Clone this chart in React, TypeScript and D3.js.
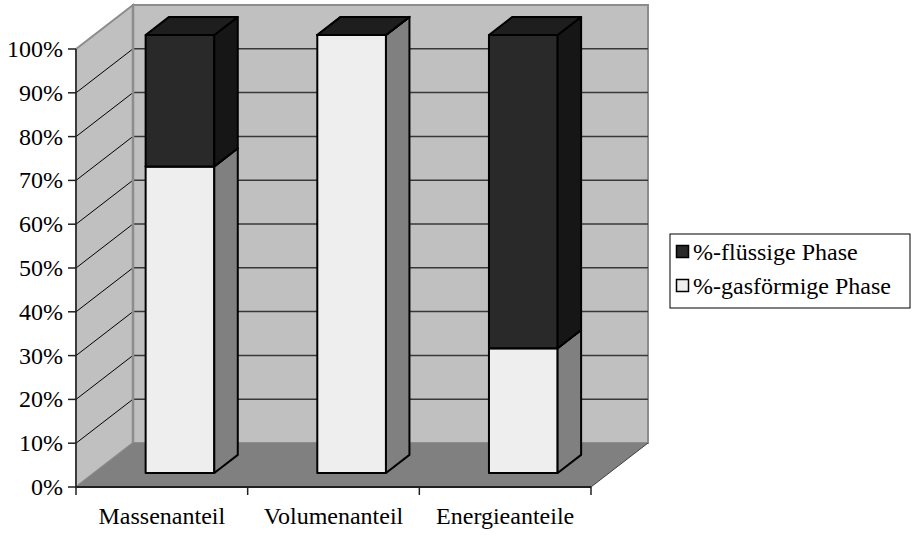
import React, { useEffect, useRef } from "react";
import * as d3 from "d3";

// Chart data
const categories = ["Massenanteil", "Volumenanteil", "Energieanteile"];
const gasPhase = [70, 100, 28.5];
const liquidPhase = [30, 0, 71.5];
const seriesNames = ["%-flüssige Phase", "%-gasförmige Phase"];
const yTicks = [0, 10, 20, 30, 40, 50, 60, 70, 80, 90, 100];

const W = 916;
const H = 536;
const FONT = "Times New Roman";

// Plot frame (front plane) and depth offset of the 3D box
const x0 = 76;
const x1 = 591;
const yBottom = 487;
const yTop = 49;
const DEPTH_X = 57;
const DEPTH_Y = -44;
// bars occupy this slice of the depth
const BAR_F0 = 0.318;
const BAR_F1 = 0.73;

const COLORS = {
  wall: "#c0c0c0",
  wallEdge: "#8c8c8c",
  floor: "#808080",
  grid: "#383838",
  liquid: { front: "#292929", side: "#161616", top: "#1e1e1e" },
  gas: { front: "#eeeeee", side: "#808080", top: "#bdbdbd" },
};

const proj = (x: number, y: number, f: number): [number, number] => [
  x + f * DEPTH_X,
  y + f * DEPTH_Y,
];

const pts = (p: [number, number][]) => p.map((q) => q.join(",")).join(" ");

export default function App() {
  const ref = useRef<SVGSVGElement | null>(null);

  useEffect(() => {
    const svg = d3.select(ref.current);
    svg.selectAll("*").remove();

    const y = d3.scaleLinear().domain([0, 100]).range([yBottom, yTop]);
    const x = d3
      .scaleBand<string>()
      .domain(categories)
      .range([x0, x1])
      .paddingInner(0.6)
      .paddingOuter(0.3);
    const step = x.step();
    const bw = x.bandwidth();

    const stacks = d3
      .stack<any>()
      .keys(["gas", "liquid"])(
        categories.map((c, i) => ({ cat: c, gas: gasPhase[i], liquid: liquidPhase[i] }))
      );

    const [bx0, byTop] = proj(x0, y(100), 1);
    const [bx1, byBot] = proj(x1, y(0), 1);

    // back wall
    svg
      .append("rect")
      .attr("x", bx0)
      .attr("y", byTop)
      .attr("width", bx1 - bx0)
      .attr("height", byBot - byTop)
      .attr("fill", COLORS.wall)
      .attr("stroke", COLORS.wallEdge)
      .attr("stroke-width", 2);

    // left wall
    svg
      .append("polygon")
      .attr(
        "points",
        pts([[x0, y(100)], proj(x0, y(100), 1), proj(x0, y(0), 1), [x0, y(0)]])
      )
      .attr("fill", COLORS.wall)
      .attr("stroke", COLORS.wallEdge)
      .attr("stroke-width", 2);

    // floor
    svg
      .append("polygon")
      .attr("points", pts([[x0, y(0)], [x1, y(0)], proj(x1, y(0), 1), proj(x0, y(0), 1)]))
      .attr("fill", COLORS.floor);
    const fr = proj(x1, y(0), 1);
    svg
      .append("line")
      .attr("x1", x1)
      .attr("y1", y(0))
      .attr("x2", fr[0])
      .attr("y2", fr[1])
      .attr("stroke", "#404040")
      .attr("stroke-width", 1);

    // gridlines on back and left walls
    yTicks
      .filter((t) => t > 0 && t < 100)
      .forEach((t) => {
        const [lx, ly] = proj(x0, y(t), 1);
        const [rx] = proj(x1, y(t), 1);
        svg
          .append("line")
          .attr("x1", lx)
          .attr("y1", ly)
          .attr("x2", rx)
          .attr("y2", ly)
          .attr("stroke", COLORS.grid)
          .attr("stroke-width", 1.5);
        svg
          .append("line")
          .attr("x1", x0)
          .attr("y1", y(t))
          .attr("x2", lx)
          .attr("y2", ly)
          .attr("stroke", "#000")
          .attr("stroke-width", 1);
      });

    svg
      .append("line")
      .attr("x1", bx0)
      .attr("y1", byTop)
      .attr("x2", bx0)
      .attr("y2", byBot)
      .attr("stroke", COLORS.wallEdge)
      .attr("stroke-width", 2.5);

    // bars: each stacked segment has front, side and top faces
    categories.forEach((c, i) => {
      const xl = x(c)!;
      const xr = xl + bw;
      stacks.forEach((s, si) => {
        const [v0, v1] = s[i];
        const col = si === 0 ? COLORS.gas : COLORS.liquid;
        const yb = y(v0);
        const yt = y(v1);
        const fbl = proj(xl, yb, BAR_F0);
        const fbr = proj(xr, yb, BAR_F0);
        const ftl = proj(xl, yt, BAR_F0);
        const ftr = proj(xr, yt, BAR_F0);
        const bbr = proj(xr, yb, BAR_F1);
        const btr = proj(xr, yt, BAR_F1);
        const btl = proj(xl, yt, BAR_F1);
        const faces: [[number, number][], string][] = [
          [[fbl, fbr, ftr, ftl], col.front],
          [[fbr, bbr, btr, ftr], col.side],
          [[ftl, ftr, btr, btl], col.top],
        ];
        faces.forEach(([p, fill]) => {
          svg
            .append("polygon")
            .attr("points", pts(p))
            .attr("fill", fill)
            .attr("stroke", "#000")
            .attr("stroke-width", 2)
            .attr("stroke-linejoin", "round");
        });
      });
    });

    const addText = (tx: number, ty: number, s: string, anchor: string) =>
      svg
        .append("text")
        .attr("x", tx)
        .attr("y", ty)
        .attr("text-anchor", anchor)
        .attr("font-family", FONT)
        .attr("font-size", 24)
        .style("font-family", FONT)
        .style("font-size", "24px")
        .attr("fill", "#000")
        .text(s);

    // value axis
    svg
      .append("line")
      .attr("x1", x0)
      .attr("y1", y(100))
      .attr("x2", x0)
      .attr("y2", y(0))
      .attr("stroke", "#202020")
      .attr("stroke-width", 1.5);
    yTicks.forEach((t) => {
      svg
        .append("line")
        .attr("x1", x0 - 8)
        .attr("y1", y(t))
        .attr("x2", x0)
        .attr("y2", y(t))
        .attr("stroke", "#202020")
        .attr("stroke-width", 1.5);
      addText(x0 - 13, y(t) + 8, `${t}%`, "end");
    });

    // category axis
    svg
      .append("line")
      .attr("x1", x0)
      .attr("y1", y(0))
      .attr("x2", x1)
      .attr("y2", y(0))
      .attr("stroke", "#202020")
      .attr("stroke-width", 2);
    d3.range(categories.length + 1).forEach((i) => {
      const bx = x0 + i * step;
      svg
        .append("line")
        .attr("x1", bx)
        .attr("y1", y(0))
        .attr("x2", bx)
        .attr("y2", y(0) + 8)
        .attr("stroke", "#202020")
        .attr("stroke-width", 1.5);
    });
    categories.forEach((c) => addText(x(c)! + bw / 2, 524, c, "middle"));

    // legend
    svg
      .append("rect")
      .attr("x", 670)
      .attr("y", 234)
      .attr("width", 240)
      .attr("height", 74)
      .attr("fill", "#fff")
      .attr("stroke", "#000")
      .attr("stroke-width", 1);
    seriesNames.forEach((n, i) => {
      svg
        .append("rect")
        .attr("x", 676.5)
        .attr("y", 245.5 + i * 34)
        .attr("width", 12)
        .attr("height", 12)
        .attr("fill", i === 0 ? COLORS.liquid.front : COLORS.gas.front)
        .attr("stroke", "#000")
        .attr("stroke-width", 1.5);
      addText(693, 259.5 + i * 34, n, "start");
    });
  }, []);

  return (
    <div style={{ position: "absolute", left: 0, top: 0 }}>
      <svg ref={ref} width={W} height={H} />
    </div>
  );
}
